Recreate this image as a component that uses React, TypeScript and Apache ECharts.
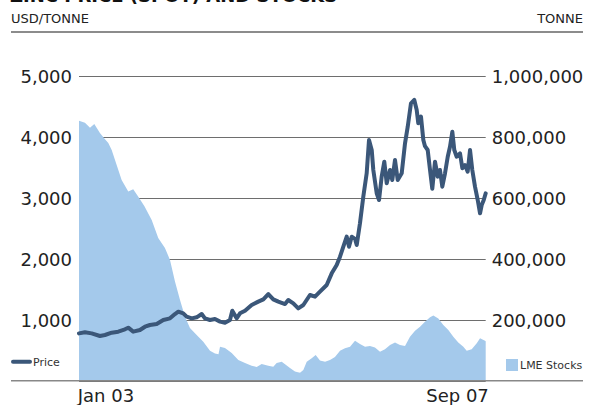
import React, { useEffect, useRef } from "react";
import * as echarts from "echarts";

// Decimal-year positions and spot price (USD/tonne)
const priceYears = [
  2002.642, 2002.721, 2002.81, 2002.92, 2002.987, 2003.076, 2003.163, 2003.252, 2003.296, 2003.362,
  2003.451, 2003.518, 2003.584, 2003.673, 2003.761, 2003.85, 2003.916, 2003.96, 2004.026, 2004.071,
  2004.138, 2004.204, 2004.271, 2004.314, 2004.381, 2004.447, 2004.514, 2004.58, 2004.646, 2004.677,
  2004.735, 2004.779, 2004.846, 2004.934, 2005.022, 2005.089, 2005.155, 2005.221, 2005.288, 2005.377,
  2005.42, 2005.487, 2005.553, 2005.62, 2005.708, 2005.775, 2005.841, 2005.93, 2005.997, 2006.063,
  2006.107, 2006.151, 2006.196, 2006.226, 2006.262, 2006.306, 2006.329, 2006.372, 2006.416, 2006.461,
  2006.492, 2006.528, 2006.549, 2006.594, 2006.625, 2006.66, 2006.695, 2006.727, 2006.771, 2006.801,
  2006.837, 2006.873, 2006.926, 2006.97, 2007.006, 2007.049, 2007.093, 2007.125, 2007.146, 2007.182,
  2007.213, 2007.235, 2007.271, 2007.302, 2007.332, 2007.368, 2007.404, 2007.434, 2007.465, 2007.501,
  2007.537, 2007.567, 2007.598, 2007.624, 2007.656, 2007.7, 2007.731, 2007.766, 2007.802, 2007.833,
  2007.863, 2007.899, 2007.935, 2007.966, 2007.988, 2008.015, 2008.041,
];
const priceValues = [
  781, 798, 781, 738, 754, 792, 809, 847, 874, 809,
  836, 890, 918, 934, 1000, 1027, 1098, 1137, 1109, 1055,
  1027, 1044, 1098, 1027, 1000, 1016, 973, 956, 1000, 1153,
  1027, 1109, 1153, 1246, 1301, 1339, 1426, 1339, 1301, 1262,
  1328, 1273, 1191, 1246, 1410, 1382, 1464, 1574, 1765, 1902,
  2038, 2202, 2366, 2202, 2366, 2330, 2230, 2585, 3022, 3405,
  3951, 3787, 3459, 3077, 2967, 3350, 3595, 3241, 3459, 3295,
  3623, 3295, 3405, 3896, 4169, 4552, 4607, 4443, 4225, 4333,
  3951, 3850, 3787, 3459, 3150, 3595, 3350, 3459, 3186, 3405,
  3677, 3841, 4087, 3787, 3677, 3732, 3487, 3541, 3432, 3787,
  3459, 3186, 2967, 2749, 2885, 2967, 3077,
];

// Decimal-year positions and LME stocks (tonnes)
const stockYears = [
  2002.642, 2002.721, 2002.788, 2002.845, 2002.92, 2002.987, 2003.031, 2003.076, 2003.142, 2003.208,
  2003.296, 2003.362, 2003.429, 2003.509, 2003.607, 2003.694, 2003.783, 2003.85, 2003.916, 2003.982,
  2004.049, 2004.115, 2004.204, 2004.292, 2004.381, 2004.447, 2004.494, 2004.514, 2004.58, 2004.669,
  2004.757, 2004.846, 2004.934, 2005.001, 2005.067, 2005.155, 2005.221, 2005.266, 2005.333, 2005.377,
  2005.443, 2005.509, 2005.576, 2005.62, 2005.665, 2005.731, 2005.784, 2005.841, 2005.908, 2005.974,
  2006.04, 2006.107, 2006.173, 2006.24, 2006.306, 2006.372, 2006.439, 2006.505, 2006.571, 2006.638,
  2006.704, 2006.771, 2006.837, 2006.903, 2006.97, 2007.036, 2007.103, 2007.169, 2007.235, 2007.302,
  2007.346, 2007.412, 2007.478, 2007.545, 2007.611, 2007.677, 2007.744, 2007.789, 2007.855, 2007.922,
  2007.966, 2008.032, 2008.041,
];
const stockValues = [
  853000, 847000, 830000, 843000, 813000, 793000, 780000, 757000, 708000, 659000,
  621000, 629000, 604000, 574000, 528000, 469000, 436000, 397000, 326000, 266000,
  211000, 174000, 151000, 129000, 99000, 90000, 88000, 112000, 108000, 92000,
  69000, 59000, 50000, 46000, 56000, 50000, 47000, 59000, 63000, 55000,
  43000, 31000, 27000, 36000, 63000, 75000, 85000, 67000, 63000, 69000,
  79000, 99000, 107000, 112000, 132000, 121000, 112000, 115000, 110000, 96000,
  104000, 118000, 126000, 118000, 115000, 145000, 165000, 178000, 194000, 209000,
  215000, 205000, 184000, 167000, 145000, 126000, 112000, 99000, 104000, 124000,
  140000, 132000, 130000,
];

const xLabelValues = [2003, 2007.667];
const xLabelTexts = ["Jan 03", "Sep 07"];

const FONT = "DejaVu Sans";
const PRICE_COLOR = "#3b5779";
const STOCK_COLOR = "#a4c9eb";

const fmt = (v: number) => (v === 0 ? "" : v.toLocaleString("en-US"));

export default function App() {
  const ref = useRef<HTMLDivElement>(null);
  useEffect(() => {
    if (!ref.current) return;
    const chart = echarts.init(ref.current, null, { renderer: "svg" });
    const priceData = priceYears.map((x, i) => [x, priceValues[i]]);
    const stockData = stockYears.map((x, i) => [x, stockValues[i]]);
    chart.setOption({
      animation: false,
      grid: { left: 79, right: 104.3, top: 76, bottom: 24, containLabel: false },
      xAxis: {
        type: "value",
        min: priceYears[0],
        max: priceYears[priceYears.length - 1],
        axisLine: { show: false },
        axisTick: { show: false },
        splitLine: { show: false },
        axisLabel: {
          customValues: xLabelValues,
          formatter: (v: number) => {
            const idx = xLabelValues.findIndex((c) => Math.abs(c - v) < 0.01);
            return idx >= 0 ? xLabelTexts[idx] : "";
          },
          margin: 5,
          fontSize: 18,
          color: "#222",
          fontFamily: FONT,
        },
      },
      yAxis: [
        {
          type: "value",
          position: "left",
          min: 0,
          max: 5000,
          interval: 1000,
          axisLine: { show: false },
          axisTick: { show: false },
          splitLine: { show: true, lineStyle: { color: "#6e6e6e", width: 1 } },
          axisLabel: { formatter: fmt, margin: 7, fontSize: 18, color: "#222", fontFamily: FONT },
        },
        {
          type: "value",
          position: "right",
          min: 0,
          max: 1000000,
          interval: 200000,
          axisLine: { show: false },
          axisTick: { show: false },
          splitLine: { show: false },
          axisLabel: { formatter: fmt, margin: 6, fontSize: 18, color: "#222", fontFamily: FONT },
        },
      ],
      series: [
        {
          name: "LME Stocks",
          type: "line",
          yAxisIndex: 1,
          data: stockData,
          showSymbol: false,
          symbol: "none",
          lineStyle: { width: 0 },
          areaStyle: { color: STOCK_COLOR, opacity: 1 },
          itemStyle: { color: STOCK_COLOR },
          z: 2,
        },
        {
          name: "Price",
          type: "line",
          yAxisIndex: 0,
          data: priceData,
          showSymbol: false,
          symbol: "none",
          lineStyle: { width: 4, color: PRICE_COLOR, join: "round", cap: "round" },
          itemStyle: { color: PRICE_COLOR },
          z: 3,
        },
      ],
      graphic: [
        {
          type: "text",
          left: 10,
          top: -14,
          style: { text: "ZINC PRICE (SPOT) AND STOCKS", font: `bold 18px "${FONT}"`, fill: "#111" },
        },
        {
          type: "text",
          left: 11,
          top: 12,
          style: { text: "USD/TONNE", font: `13px "${FONT}"`, fill: "#222" },
        },
        {
          type: "text",
          right: 7,
          top: 12,
          style: { text: "TONNE", font: `13px "${FONT}"`, fill: "#222" },
        },
        {
          type: "line",
          shape: { x1: 11, y1: 32, x2: 583, y2: 32 },
          style: { stroke: "#666", lineWidth: 1.5 },
        },
        {
          type: "line",
          shape: { x1: 11, y1: 380.7, x2: 583, y2: 380.7 },
          style: { stroke: "#888", lineWidth: 1.5 },
          z: 10,
        },
        {
          type: "line",
          shape: { x1: 13, y1: 361.7, x2: 30, y2: 361.7 },
          style: { stroke: PRICE_COLOR, lineWidth: 4, lineCap: "round" },
        },
        {
          type: "text",
          x: 33,
          y: 362,
          style: { text: "Price", font: `11px "${FONT}"`, fill: "#333", verticalAlign: "middle" },
        },
        {
          type: "rect",
          shape: { x: 506, y: 359, width: 12, height: 12 },
          style: { fill: STOCK_COLOR },
        },
        {
          type: "text",
          x: 520,
          y: 365.5,
          style: { text: "LME Stocks", font: `11px "${FONT}"`, fill: "#333", verticalAlign: "middle" },
        },
      ],
    });
    return () => chart.dispose();
  }, []);
  return <div ref={ref} style={{ width: 590, height: 405, position: "absolute", left: 0, top: 0 }} />;
}
